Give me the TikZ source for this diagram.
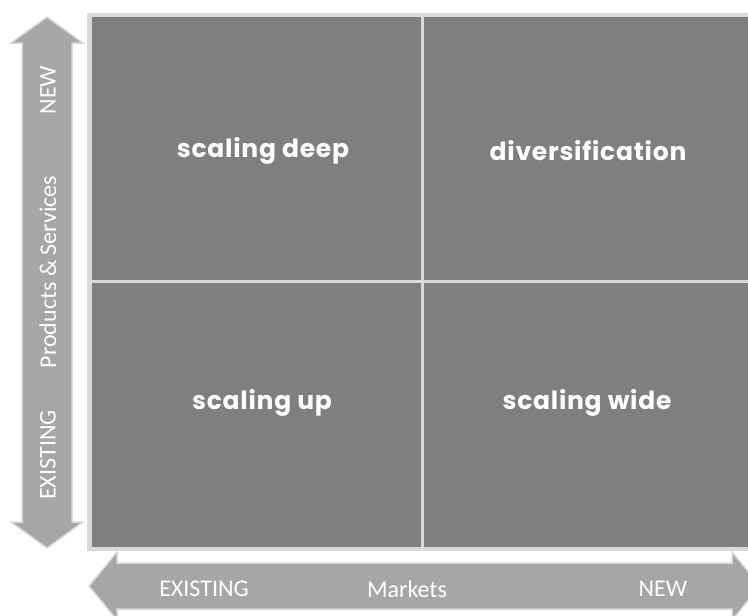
\documentclass[tikz,border=0pt]{standalone}
\usepackage{fontspec}
\setmainfont{Carlito}
\newfontfamily\quadfont[LetterSpace=3]{Poppins}
\definecolor{cellgray}{HTML}{7F7F7F}
\definecolor{rulegray}{HTML}{D9D9D9}
\definecolor{axisgray}{HTML}{A6A6A6}

\begin{document}
\begin{tikzpicture}[x=1pt,y=-1pt,
    quad/.style={text=white,font=\quadfont\bfseries\fontsize{25}{29}\selectfont},
    axis/.style={text=white,font=\fontsize{24}{28}\selectfont},
    cell/.style={fill=cellgray,draw=rulegray,line width=3pt},
    axisarrow/.style={fill=axisgray,draw=rulegray,line width=1.5pt}]
\useasboundingbox (0,0) rectangle (748,616);
% the four quadrants
\draw[rulegray,line width=5pt] (89.5,15.5) rectangle (770,548);
\path[cell] (90,15) rectangle (422,281);
\path[cell] (422,15) rectangle (770,281);
\path[cell] (90,281) rectangle (422,548);
\path[cell] (422,281) rectangle (770,548);
\node[quad] (deep) at (263,151) {scaling deep};
\node[quad] (div) at (588,151) {diversification};
\node[quad] (up) at (262,403) {scaling up};
\node[quad] (wide) at (587,403) {scaling wide};
% products axis
\draw[axisarrow] (47,17) -- (83,43) -- (72,43) -- (72,522) -- (83,522) -- (47,548)
    -- (11,522) -- (22,522) -- (22,43) -- (11,43) -- cycle;
\node[axis,rotate=90] (pnew) at (48,90) {NEW};
\node[axis,rotate=90] (pname) at (48,272) {Products \& Services};
\node[axis,rotate=90] (pold) at (48,455) {EXISTING};
% markets axis
\draw[axisarrow] (89,586) -- (117,552) -- (117,563) -- (732,563) -- (732,552) -- (760,586)
    -- (732,620) -- (732,609) -- (117,609) -- (117,620) -- cycle;
\node[axis] (mold) at (204,589) {EXISTING};
\node[axis] (mname) at (407,589) {Markets};
\node[axis] (mnew) at (663,589) {NEW};
\end{tikzpicture}
\end{document}
